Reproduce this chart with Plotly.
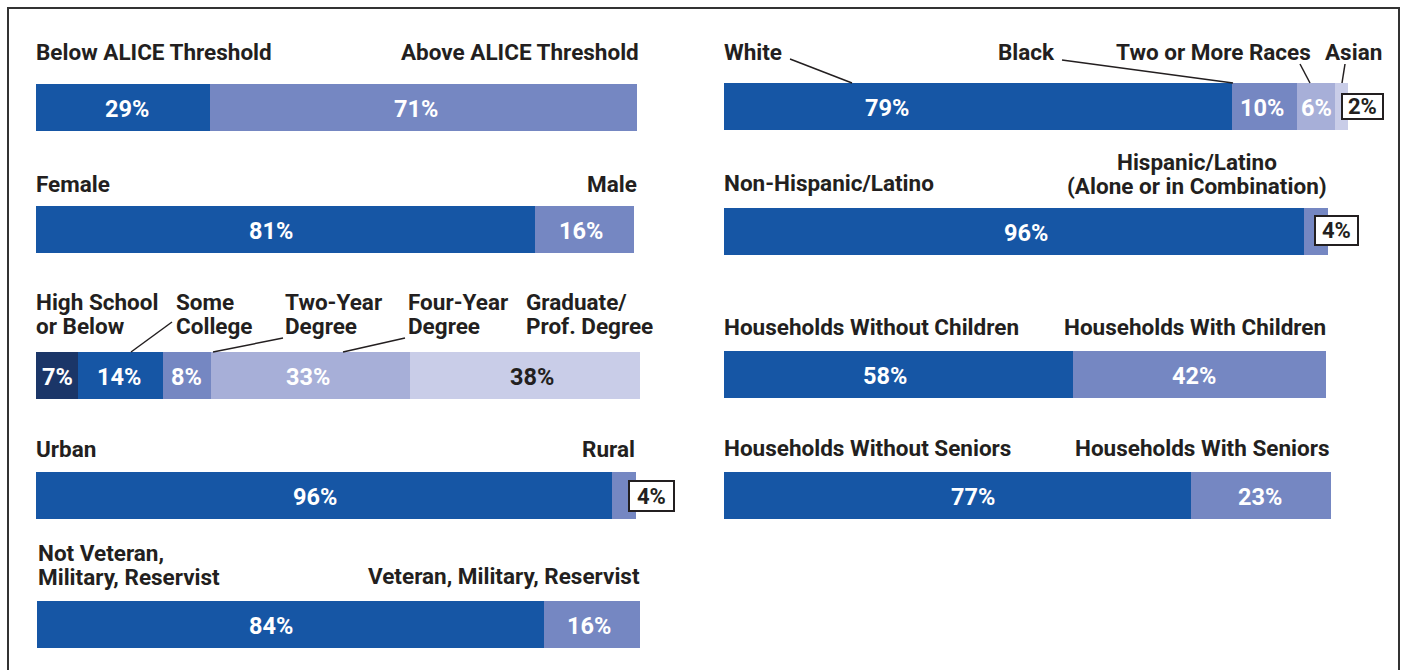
import plotly.graph_objects as go

# ---------------- data ----------------
alice_labels = ["Below ALICE Threshold", "Above ALICE Threshold"]
alice_vals = [29, 71]
gender_labels = ["Female", "Male"]
gender_vals = [81, 16]
edu_labels = ["High School<br>or Below", "Some<br>College", "Two-Year<br>Degree",
              "Four-Year<br>Degree", "Graduate/<br>Prof. Degree"]
edu_vals = [7, 14, 8, 33, 38]
area_labels = ["Urban", "Rural"]
area_vals = [96, 4]
vet_labels = ["Not Veteran,<br>Military, Reservist", "Veteran, Military, Reservist"]
vet_vals = [84, 16]
race_labels = ["White", "Black", "Two or More Races", "Asian"]
race_vals = [79, 10, 6, 2]
eth_labels = ["Non-Hispanic/Latino", "Hispanic/Latino<br>(Alone or in Combination)"]
eth_vals = [96, 4]
child_labels = ["Households Without Children", "Households With Children"]
child_vals = [58, 42]
senior_labels = ["Households Without Seniors", "Households With Seniors"]
senior_vals = [77, 23]

# ---------------- style / layout ----------------
W, H = 1411, 670
NAVY = "#1b3668"
BLUE = "#1656a5"
MED = "#7587c2"
LIGHT = "#a7afd8"
LIGHTEST = "#c9cde8"
DARK = "#231f20"
FONT = "Roboto"
FS_HDR = 22.5
FS_PCT = 23.5
FS_BOX = 22
BAR_H = 47
LINE_GAP = 24

two_cols = [BLUE, MED]

# rows: (values, colors, text colors, y center, bar pixel start, bar pixel end)
rows = [
    (alice_vals, two_cols, ["white", "white"], 107.5, 36, 637),
    (gender_vals, two_cols, ["white", "white"], 229.5, 36, 634),
    (edu_vals, [NAVY, BLUE, MED, LIGHT, LIGHTEST], ["white", "white", "white", "white", DARK], 375.5, 36, 640),
    (area_vals, two_cols, ["white", "white"], 495.5, 36, 636),
    (vet_vals, two_cols, ["white", "white"], 624.5, 37, 640),
    (race_vals, [BLUE, MED, LIGHT, LIGHTEST], ["white", "white", "white", DARK], 106.5, 724, 1348),
    (eth_vals, two_cols, ["white", "white"], 231.5, 724, 1328),
    (child_vals, two_cols, ["white", "white"], 374.5, 724, 1326),
    (senior_vals, two_cols, ["white", "white"], 495.5, 724, 1331),
]

# pixel centers of the in-bar value labels (None = boxed label outside the bar)
label_cx = [
    [127, 416],
    [271, 581],
    [57, 119, 186, 308, 532],
    [315, None],
    [271, 589],
    [887, 1262, 1316, None],
    [1026, None],
    [885, 1194],
    [973, 1260],
]
# boxes for small segments (pixel rect: x0, y0, x1, y1)
box_rect = {(3, 1): (629, 481, 674, 511), (5, 3): (1342, 94, 1383, 119), (6, 1): (1315, 216, 1358, 245)}

fig = go.Figure()
annotations = []
shapes = []
layout_axes = {}
for ri, (vals, cols, tcols, yc, px0, px1) in enumerate(rows):
    axname = "x" if ri == 0 else f"x{ri + 1}"
    layout_axes["xaxis" if ri == 0 else f"xaxis{ri + 1}"] = dict(
        domain=[px0 / W, px1 / W], range=[0, 100], visible=False, fixedrange=True, anchor="y")
    total = sum(vals)
    base = 0.0
    for si, v in enumerate(vals):
        w = v / total * 100
        fig.add_trace(go.Bar(
            x=[w], base=[base], y=[yc], width=BAR_H, orientation="h",
            marker=dict(color=cols[si], line=dict(width=0)),
            xaxis=axname, yaxis="y", showlegend=False, hoverinfo="skip",
        ))
        cx = label_cx[ri][si]
        if cx is not None:
            annotations.append(dict(
                x=cx / W, y=yc, xref="paper", yref="y", text=f"{v}%", showarrow=False,
                font=dict(family=FONT, size=FS_PCT, color=tcols[si], weight="bold"),
                xanchor="center", yanchor="middle", yshift=-1))
        else:
            x0, y0, x1, y1 = box_rect[(ri, si)]
            shapes.append(dict(type="rect", xref="paper", yref="y", x0=x0 / W, x1=x1 / W, y0=y0, y1=y1,
                               line=dict(color=DARK, width=2), fillcolor="white", layer="above"))
            annotations.append(dict(
                x=(x0 + x1) / 2 / W, y=(y0 + y1) / 2, xref="paper", yref="y", text=f"{v}%",
                showarrow=False, font=dict(family=FONT, size=FS_BOX, color=DARK, weight="bold"),
                xanchor="center", yanchor="middle"))
        base += w


# header labels: text may hold <br>; each line placed separately, y = last line's center
def hdr(text, x, y, anchor):
    lines = text.split("<br>")
    n = len(lines)
    shift = {"left": -2, "right": 2, "center": 0}[anchor]
    for i, ln in enumerate(lines):
        annotations.append(dict(
            x=x / W, y=y - (n - 1 - i) * LINE_GAP, xref="paper", yref="y", text=ln, showarrow=False,
            font=dict(family=FONT, size=FS_HDR, color=DARK, weight="bold"),
            xanchor=anchor, yanchor="middle", xshift=shift))


hdr(alice_labels[0], 36, 52, "left")
hdr(alice_labels[1], 639, 52, "right")
hdr(gender_labels[0], 36, 184, "left")
hdr(gender_labels[1], 637, 184, "right")
for lab, x in zip(edu_labels, [36, 176, 285, 408, 526]):
    hdr(lab, x, 326, "left")
hdr(area_labels[0], 36, 449, "left")
hdr(area_labels[1], 635, 449, "right")
hdr(vet_labels[0], 38, 577, "left")
hdr(vet_labels[1], 640, 576, "right")
for lab, x in zip(race_labels, [724, 998, 1116, 1325]):
    hdr(lab, x, 52, "left")
hdr(eth_labels[0], 724, 183, "left")
hdr(eth_labels[1], 1197, 186, "center")
hdr(child_labels[0], 724, 327, "left")
hdr(child_labels[1], 1326, 327, "right")
hdr(senior_labels[0], 724, 448, "left")
hdr(senior_labels[1], 1330, 448, "right")

# leader lines (pixels)
leaders = [
    (790, 59, 852, 83), (1062, 60, 1233, 83), (1300, 64, 1310, 83), (1345, 64, 1342, 83),
    (172, 322, 131, 352), (283, 338, 213, 352), (405, 338, 343, 352),
]
for a, b, c, d in leaders:
    shapes.append(dict(type="line", xref="paper", yref="y", x0=a / W, y0=b, x1=c / W, y1=d,
                       line=dict(color=DARK, width=1.5)))
# outer frame
shapes.append(dict(type="rect", xref="paper", yref="y", x0=8 / W, x1=1399 / W, y0=8, y1=700,
                   line=dict(color="#333333", width=2), fillcolor="rgba(0,0,0,0)", layer="above"))

fig.update_layout(
    width=W, height=H, margin=dict(l=0, r=0, t=0, b=0),
    paper_bgcolor="white", plot_bgcolor="rgba(0,0,0,0)",
    barmode="overlay", bargap=0,
    yaxis=dict(domain=[0, 1], range=[H, 0], visible=False, fixedrange=True),
    annotations=annotations, shapes=shapes,
    font=dict(family=FONT),
    **layout_axes,
)

fig.write_html("out.html")
